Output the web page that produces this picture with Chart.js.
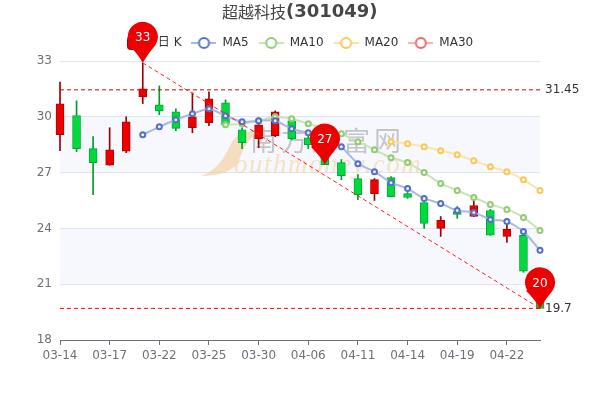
<!DOCTYPE html>
<html>
<head>
<meta charset="utf-8">
<style>
body { margin: 0; background: #fff; }
</style>
<script src="https://cdn.jsdelivr.net/npm/chart.js@4"></script>
</head>
<body>
<canvas id="chart" width="600" height="400"></canvas>
<script>
const days = ['03-14','03-15','03-16','03-17','03-18','03-21','03-22','03-23','03-24','03-25',
    '03-28','03-29','03-30','03-31','04-01','04-06','04-07','04-08','04-11','04-12',
    '04-13','04-14','04-15','04-18','04-19','04-20','04-21','04-22','04-25','04-26'];
const opens = [29.04,30.07,28.29,27.40,28.15,31.07,30.64,30.27,29.41,29.68,
    30.75,29.30,28.82,28.98,29.79,28.87,28.55,27.54,26.68,25.87,
    26.73,25.87,25.39,24.00,24.91,24.64,24.96,23.57,23.63,20.41];
const closes = [30.70,28.29,27.54,28.23,29.73,31.50,30.32,29.38,30.00,30.96,
    29.57,28.61,29.57,30.27,28.82,28.50,27.43,26.84,25.82,26.62,
    25.71,25.66,24.27,24.43,24.75,25.23,23.63,23.95,21.70,19.70];
const highs = [31.87,30.86,28.93,29.41,30.00,32.90,31.66,30.43,31.29,31.34,
    30.91,29.41,29.62,30.32,29.84,29.04,28.71,27.70,26.89,26.68,
    26.78,25.93,25.39,24.64,25.18,25.50,25.02,24.27,23.68,20.41];
const lows = [28.18,28.12,25.82,27.40,28.07,30.71,30.11,29.25,29.14,29.52,
    29.46,28.29,28.34,28.93,28.77,28.29,27.43,26.62,25.55,25.50,
    25.71,25.61,24.00,23.57,24.54,24.64,23.63,23.25,21.64,19.70];
const ma5 = [null,null,null,null,null,29.04,29.46,29.84,30.16,30.43,
    30.05,29.73,29.79,29.79,29.36,29.14,28.98,28.39,27.48,27.05,
    26.46,26.14,25.61,25.34,24.96,24.86,24.48,24.37,23.84,22.82];
const ma10 = [null,null,null,null,null,null,null,null,null,null,
    29.57,29.62,29.79,30.00,29.89,29.62,29.36,29.09,28.66,28.23,
    27.80,27.54,27.00,26.41,26.04,25.66,25.29,25.02,24.59,23.89];
const ma20 = [null,null,null,null,null,null,null,null,null,null,
    null,null,null,null,null,null,null,null,null,null,
    28.66,28.55,28.39,28.18,27.96,27.64,27.32,27.05,26.62,26.04];
const ma30 = days.map(() => null);
const highLine = days.map(() => 31.45);
const lowLine = days.map(() => 19.7);
const trendLine = days.map((d, i) => i === 5 ? 32.9 : i === 29 ? 19.7 : null);
const pinIndex = [5, 16, 29];
const pinValues = [32.9, 27.43, 19.7];
const pinLabels = ['33', '27', '20'];
const sideValues = [31.45, 19.7];
const sideLabels = ['31.45', '19.7'];
const yTicks = [18, 21, 24, 27, 30, 33];

const FONT = '"DejaVu Sans", "Noto Sans CJK SC", sans-serif';
const isUp = i => closes[i] >= opens[i];

// legend icon: line with a hollow circle
function lineIcon(lineColor, dotColor) {
    const c = document.createElement('canvas');
    c.width = 25;
    c.height = 14;
    const g = c.getContext('2d');
    g.strokeStyle = lineColor;
    g.lineWidth = 2;
    g.beginPath();
    g.moveTo(0, 7);
    g.lineTo(25, 7);
    g.stroke();
    g.beginPath();
    g.arc(12.5, 7, 5, 0, Math.PI * 2);
    g.fillStyle = '#fff';
    g.fill();
    g.strokeStyle = dotColor;
    g.stroke();
    return c;
}
function candleIcon() {
    const c = document.createElement('canvas');
    c.width = 25;
    c.height = 14;
    const g = c.getContext('2d');
    g.fillStyle = '#ee0000';
    g.strokeStyle = '#990000';
    g.beginPath();
    g.roundRect(0.5, 0.5, 24, 13, 3);
    g.fill();
    g.stroke();
    return c;
}

function maSet(label, data, color, soft) {
    return {
        type: 'line', label: label, data: data, order: 3,
        borderColor: soft, borderWidth: 2, tension: 0.2,
        pointRadius: 2.5, pointBorderWidth: 2,
        pointBorderColor: color, pointBackgroundColor: 'rgba(255,255,255,0.75)',
        clip: false
    };
}
function dashSet(label, data, color, dash, width) {
    return {
        type: 'line', label: label, data: data, order: 2, spanGaps: true,
        borderColor: color, borderWidth: width, borderDash: dash,
        pointRadius: 0, clip: false
    };
}

const bandPlugin = {
    id: 'bands',
    beforeDraw(chart) {
        const { ctx, chartArea, scales } = chart;
        ctx.save();
        ctx.fillStyle = '#f6f8fd';
        [[27, 30], [21, 24]].forEach(b => {
            const top = scales.y.getPixelForValue(b[1]);
            const bottom = scales.y.getPixelForValue(b[0]);
            ctx.fillRect(chartArea.left, top, chartArea.width, bottom - top);
        });
        ctx.restore();
    }
};

const watermarkPlugin = {
    id: 'watermark',
    beforeDatasetsDraw(chart) {
        const ctx = chart.ctx;
        ctx.save();
        ctx.fillStyle = 'rgba(245,205,150,0.6)';
        ctx.beginPath();
        ctx.moveTo(201, 176);
        ctx.bezierCurveTo(222, 168, 226, 152, 232, 142);
        ctx.bezierCurveTo(238, 132, 250, 130, 266, 130);
        ctx.bezierCurveTo(248, 136, 244, 148, 240, 158);
        ctx.bezierCurveTo(236, 170, 222, 176, 201, 176);
        ctx.fill();
        ctx.textAlign = 'left';
        ctx.textBaseline = 'alphabetic';
        ctx.font = 'italic 27px "Liberation Serif", serif';
        ctx.letterSpacing = '1.5px';
        ctx.fillStyle = 'rgba(245,205,150,0.55)';
        ctx.fillText('outhmoney.com', 234, 173);
        ctx.font = '27px "Noto Sans CJK SC", sans-serif';
        ctx.letterSpacing = '4px';
        ctx.fillStyle = 'rgba(120,120,120,0.4)';
        ctx.fillText('南方财富网', 250, 151);
        ctx.restore();
    }
};

const markPlugin = {
    id: 'marks',
    afterDatasetsDraw(chart) {
        const { ctx, scales } = chart;
        ctx.save();
        pinIndex.forEach((idx, i) => {
            const x = scales.x.getPixelForValue(idx);
            const tip = scales.y.getPixelForValue(pinValues[i]);
            const cy = tip - 26;
            ctx.fillStyle = '#ee0000';
            ctx.beginPath();
            ctx.arc(x, cy, 15, Math.PI * 0.82, Math.PI * 0.18);
            ctx.quadraticCurveTo(x + 5, cy + 17, x, tip);
            ctx.quadraticCurveTo(x - 5, cy + 17, x - 14.3, cy + 8);
            ctx.fill();
            ctx.fillStyle = '#fff';
            ctx.font = '12px ' + FONT;
            ctx.textAlign = 'center';
            ctx.textBaseline = 'middle';
            ctx.fillText(pinLabels[i], x, cy + 1);
        });
        ctx.fillStyle = '#333';
        ctx.font = '12px ' + FONT;
        ctx.textAlign = 'left';
        ctx.textBaseline = 'middle';
        sideValues.forEach((v, i) => {
            ctx.fillText(sideLabels[i], 545, scales.y.getPixelForValue(v));
        });
        ctx.restore();
    },
    afterDraw(chart) {
        const ctx = chart.ctx;
        ctx.save();
        ctx.fillStyle = '#464646';
        ctx.textBaseline = 'middle';
        ctx.textAlign = 'left';
        ctx.font = '16px "Noto Sans CJK SC", sans-serif';
        ctx.fillText('超越科技', 222, 12);
        ctx.font = 'bold 18px "DejaVu Sans", sans-serif';
        ctx.fillText('(301049)', 286, 12);
        ctx.restore();
    }
};

const legendItems = [
    { text: '日 K', pointStyle: candleIcon() },
    { text: 'MA5', pointStyle: lineIcon('#a9b8e4', '#5470c6') },
    { text: 'MA10', pointStyle: lineIcon('#c8e6b5', '#91cc75') },
    { text: 'MA20', pointStyle: lineIcon('#fde3ab', '#fac858') },
    { text: 'MA30', pointStyle: lineIcon('#f9b5b5', '#ee6666') }
];

new Chart(document.getElementById('chart'), {
    type: 'bar',
    plugins: [bandPlugin, watermarkPlugin, markPlugin],
    data: {
        labels: days,
        datasets: [
            {
                label: 'wick', data: days.map((d, i) => [lows[i], highs[i]]),
                order: 10, grouped: false, barThickness: 1, clip: false,
                backgroundColor: ctx => isUp(ctx.dataIndex) ? '#990000' : '#009a2e'
            },
            {
                label: '日 K', data: days.map((d, i) => [opens[i], closes[i]]),
                order: 9, grouped: false, barThickness: 8, clip: false,
                borderWidth: 1, borderSkipped: false,
                backgroundColor: ctx => isUp(ctx.dataIndex) ? '#ee0000' : '#00da3c',
                borderColor: ctx => isUp(ctx.dataIndex) ? '#b00000' : '#00a838'
            },
            maSet('MA5', ma5, '#5470c6', '#a9b8e4'),
            maSet('MA10', ma10, '#91cc75', '#c8e6b5'),
            maSet('MA20', ma20, '#fac858', '#fde3ab'),
            maSet('MA30', ma30, '#ee6666', '#f9b5b5'),
            dashSet('high', highLine, '#cc0000', [4, 3], 1),
            dashSet('low', lowLine, '#ff0000', [4, 3], 1),
            dashSet('trend', trendLine, '#ff2020', [4, 3], 1)
        ]
    },
    options: {
        responsive: false,
        animation: false,
        layout: { padding: { top: 27 } },
        plugins: {
            tooltip: { enabled: false },
            title: { display: false },
            // empty box under the legend, only a small gap above the plot
            subtitle: {
                display: true, text: '', weight: 500, padding: 0,
                font: { size: 2, lineHeight: 1 }
            },
            legend: {
                display: true,
                position: 'top',
                labels: {
                    usePointStyle: true,
                    pointStyleWidth: 25,
                    padding: 10,
                    color: '#333',
                    font: { family: FONT, size: 12 },
                    generateLabels: () => legendItems.map(it => ({
                        text: it.text, pointStyle: it.pointStyle,
                        fontColor: '#333', lineWidth: 0, hidden: false
                    }))
                }
            }
        },
        scales: {
            x: {
                offset: false,
                grid: { offset: false, drawOnChartArea: false, tickLength: 5, tickColor: '#6e7079' },
                border: { color: '#6e7079' },
                afterBuildTicks: axis => {
                    axis.ticks = axis.ticks.filter(t => t.value % 3 === 0);
                },
                afterFit: axis => { axis.height = 60; },
                ticks: {
                    autoSkip: false, maxRotation: 0, padding: 4,
                    color: '#6e7079', font: { family: FONT, size: 12 }
                }
            },
            y: {
                min: 18, max: 33,
                grid: { color: '#e0e6f1', tickLength: 0 },
                border: { display: false },
                afterBuildTicks: axis => {
                    axis.ticks = yTicks.map(v => ({ value: v }));
                },
                afterFit: axis => { axis.width = 60; },
                ticks: {
                    padding: 8,
                    color: '#6e7079', font: { family: FONT, size: 12 }
                }
            },
            // empty right axis, keeps room for the side labels
            side: {
                position: 'right', min: 18, max: 33,
                grid: { display: false },
                border: { display: false },
                ticks: { display: false },
                afterFit: axis => { axis.width = 60; }
            }
        }
    }
});
</script>
</body>
</html>
